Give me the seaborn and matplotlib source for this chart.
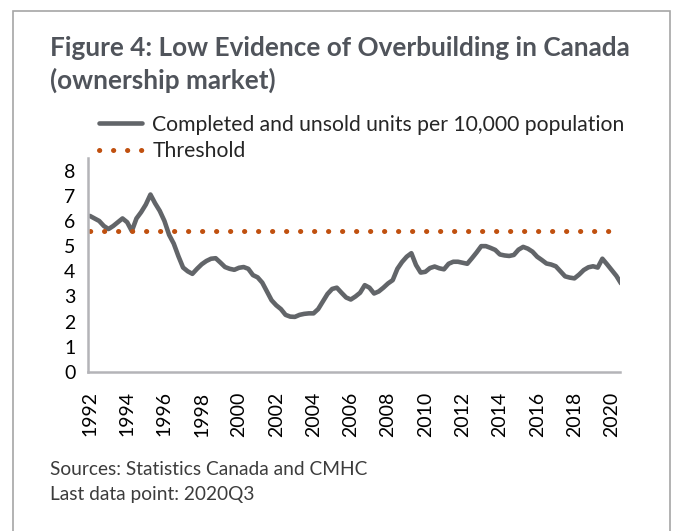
import matplotlib
matplotlib.use("Agg")
import matplotlib.pyplot as plt
import numpy as np
import pandas as pd
import seaborn as sns
from matplotlib.patches import Rectangle

# ── Data (quarterly, 1992Q1 .. 2020Q3) ────────────────────────────────
START_YEAR = 1992
unsold_per_10k = [
    6.20, 6.10, 6.00, 5.80, 5.68, 5.80, 5.95, 6.10, 5.95, 5.60,
    6.10, 6.35, 6.65, 7.05, 6.70, 6.40, 6.00, 5.45, 5.10, 4.60,
    4.15, 4.00, 3.90, 4.10, 4.28, 4.41, 4.50, 4.52, 4.35, 4.17,
    4.10, 4.06, 4.14, 4.17, 4.10, 3.85, 3.76, 3.55, 3.20, 2.85,
    2.65, 2.50, 2.27, 2.20, 2.19, 2.27, 2.31, 2.33, 2.33, 2.50,
    2.80, 3.10, 3.30, 3.35, 3.15, 2.96, 2.88, 3.00, 3.15, 3.45,
    3.35, 3.12, 3.20, 3.35, 3.52, 3.65, 4.10, 4.37, 4.58, 4.72,
    4.25, 3.95, 3.98, 4.13, 4.19, 4.12, 4.08, 4.30, 4.38, 4.38,
    4.34, 4.30, 4.52, 4.75, 5.00, 5.00, 4.93, 4.85, 4.67, 4.63,
    4.61, 4.65, 4.86, 4.97, 4.90, 4.78, 4.58, 4.45, 4.31, 4.27,
    4.20, 4.00, 3.80, 3.75, 3.72, 3.87, 4.05, 4.16, 4.20, 4.15,
    4.50, 4.28, 4.05, 3.82, 3.52,
]
threshold_value = 5.6
year_ticks = list(range(1992, 2021, 2))
y_ticks = list(range(0, 9))

labels = ["Completed and unsold units per 10,000 population", "Threshold"]

quarters = START_YEAR + np.arange(len(unsold_per_10k)) / 4.0
df = pd.DataFrame({
    "t": quarters,
    "unsold": unsold_per_10k,
    "threshold": [threshold_value] * len(unsold_per_10k),
})

# ── Style ─────────────────────────────────────────────────────────────
sns.set_style("white")
plt.rcParams["font.family"] = ["Lato", "DejaVu Sans"]

LINE_GREY = "#626569"
THRESH_ORANGE = "#c0500f"
SPINE_GREY = "#b4b4b8"
TITLE_GREY = "#50545b"

fig = plt.figure(figsize=(6.74, 5.31), dpi=100)
ax = fig.add_axes([0.1306, 0.2994, 0.7894, 0.4030])

sns.lineplot(data=df, x="t", y="unsold", ax=ax, color=LINE_GREY, lw=3.3,
             label=labels[0])
sns.lineplot(data=df, x="t", y="threshold", ax=ax, color=THRESH_ORANGE, lw=3.6,
             label=labels[1])

# styling after seaborn has drawn the lines
main_line, thr_line = ax.get_lines()[:2]
main_line.set_solid_capstyle("round")
main_line.set_solid_joinstyle("round")
thr_line.set_linestyle((0, (0.05, 2.75)))
thr_line.set_dash_capstyle("round")

ax.set_xlim(1991.9, 2020.45)
ax.set_ylim(0, 8.5)
ax.set_xticks(year_ticks)
ax.set_xticklabels([str(y) for y in year_ticks], rotation=90, fontsize=14)
ax.set_yticks(y_ticks)
ax.set_yticklabels([str(v) for v in y_ticks], fontsize=14)
ax.tick_params(axis="x", length=0, pad=14, colors="black")
ax.tick_params(axis="y", length=0, pad=9, colors="black")
ax.set_xlabel("")
ax.set_ylabel("")

for side in ["top", "right"]:
    ax.spines[side].set_visible(False)
for side in ["left", "bottom"]:
    ax.spines[side].set_color(SPINE_GREY)
    ax.spines[side].set_linewidth(1.8)

ax.get_legend().remove()
handles = [main_line, thr_line]
fig.legend(handles, labels, loc="upper left", bbox_to_anchor=(0.135, 0.80),
           frameon=False, fontsize=15.2, handlelength=2.0, handletextpad=0.5,
           labelspacing=0.3, borderaxespad=0)

# ── Text ──────────────────────────────────────────────────────────────
fig.text(0.074, 0.91, "Figure 4: Low Evidence of Overbuilding in Canada",
         fontsize=18.8, fontweight="bold", color=TITLE_GREY, va="center")
fig.text(0.074, 0.848, "(ownership market)",
         fontsize=18.8, fontweight="bold", color=TITLE_GREY, va="center")
fig.text(0.074, 0.115, "Sources: Statistics Canada and CMHC",
         fontsize=13.8, color="#3c3c3c", va="center")
fig.text(0.074, 0.068, "Last data point: 2020Q3",
         fontsize=13.8, color="#3c3c3c", va="center")

# outer frame
fig.patches.append(Rectangle((0.0195, -0.05), 0.975, 1.03, transform=fig.transFigure,
                             fill=False, edgecolor="#a6a6a6", lw=1.2))

fig.savefig("out.png", dpi=100)
plt.close(fig)
